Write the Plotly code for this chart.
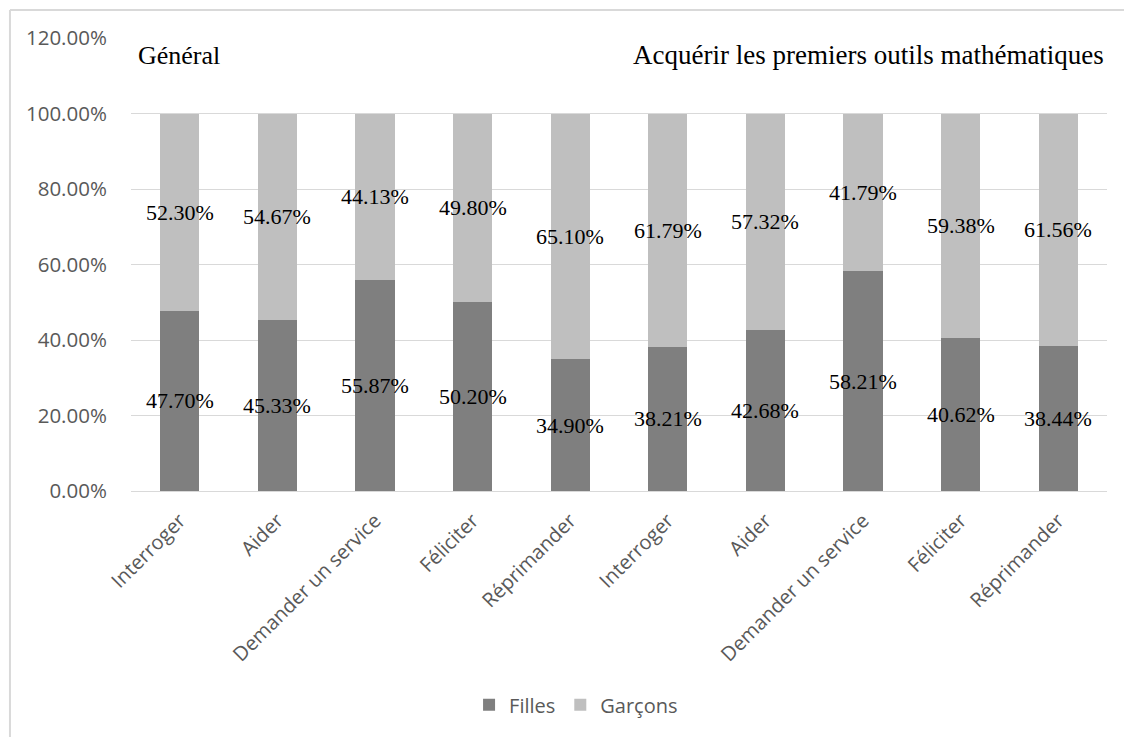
import plotly.graph_objects as go

# Actions, two groups of five (general / first maths tools)
actions = ["Interroger", "Aider", "Demander un service", "Féliciter", "Réprimander",
           "Interroger", "Aider", "Demander un service", "Féliciter", "Réprimander"]
filles = [47.70, 45.33, 55.87, 50.20, 34.90, 38.21, 42.68, 58.21, 40.62, 38.44]
garcons = [52.30, 54.67, 44.13, 49.80, 65.10, 61.79, 57.32, 41.79, 59.38, 61.56]
y_ticks = [0, 20, 40, 60, 80, 100, 120]

x_pos = list(range(len(actions)))

DARK = "#7f7f7f"
LIGHT = "#bfbfbf"
GRID = "#d9d9d9"
AXIS_TXT = "#595959"
SANS = "Open Sans"
SERIF = "Liberation Serif"

fig = go.Figure()
fig.add_trace(go.Bar(x=x_pos, y=filles, name="Filles", marker_color=DARK,
                     marker_line_width=0, hoverinfo="skip"))
fig.add_trace(go.Bar(x=x_pos, y=garcons, name="Garçons", marker_color=LIGHT,
                     marker_line_width=0, hoverinfo="skip"))

# value labels centred in each segment
for i, (f, g) in enumerate(zip(filles, garcons)):
    fig.add_annotation(x=i, y=f / 2, text=f"{f:.2f}%", showarrow=False,
                       font=dict(family=SERIF, size=22, color="black"))
    fig.add_annotation(x=i, y=f + g / 2, text=f"{g:.2f}%", showarrow=False,
                       font=dict(family=SERIF, size=22, color="black"))

# section headings
fig.add_annotation(xref="paper", yref="paper", x=0.005, y=0.962, xanchor="left",
                   yanchor="middle", text="Général", showarrow=False,
                   font=dict(family=SERIF, size=26, color="black"))
fig.add_annotation(xref="paper", yref="paper", x=0.999, y=0.962, xanchor="right",
                   yanchor="middle", text="Acquérir les premiers outils mathématiques",
                   showarrow=False, font=dict(family=SERIF, size=27, color="black"))

# chart frame (left and top edges)
fig.add_shape(type="line", xref="paper", yref="paper", x0=-0.124, x1=-0.124,
              y0=-0.6, y1=1.0618, line=dict(color=GRID, width=2))
fig.add_shape(type="line", xref="paper", yref="paper", x0=-0.124, x1=1.05,
              y0=1.0618, y1=1.0618, line=dict(color=GRID, width=2))

fig.update_layout(
    width=1124, height=737,
    margin=dict(l=131, r=17, t=38, b=246),
    barmode="stack", bargap=0.6,
    plot_bgcolor="white", paper_bgcolor="white",
    showlegend=True,
    legend=dict(orientation="h", x=0.456, y=-0.472, xanchor="center", yanchor="middle",
                font=dict(family=SANS, size=20, color=AXIS_TXT), itemwidth=30,
                traceorder="normal"),
    xaxis=dict(tickmode="array", tickvals=x_pos, ticktext=actions, tickangle=-45,
               range=[-0.5, 9.5], showgrid=False, showline=True, linecolor=GRID,
               linewidth=1, ticks="outside", ticklen=9, tickcolor="rgba(0,0,0,0)",
               tickfont=dict(family=SANS, size=20, color=AXIS_TXT), zeroline=False),
    yaxis=dict(range=[0, 120], tickmode="array", tickvals=y_ticks,
               ticktext=[f"{v:.2f}%" for v in y_ticks], showgrid=True, gridcolor=GRID,
               gridwidth=1, zeroline=False, showline=False, ticks="outside", ticklen=19,
               tickcolor="rgba(0,0,0,0)",
               tickfont=dict(family=SANS, size=20.5, color=AXIS_TXT)),
)

fig.write_html("out.html")
